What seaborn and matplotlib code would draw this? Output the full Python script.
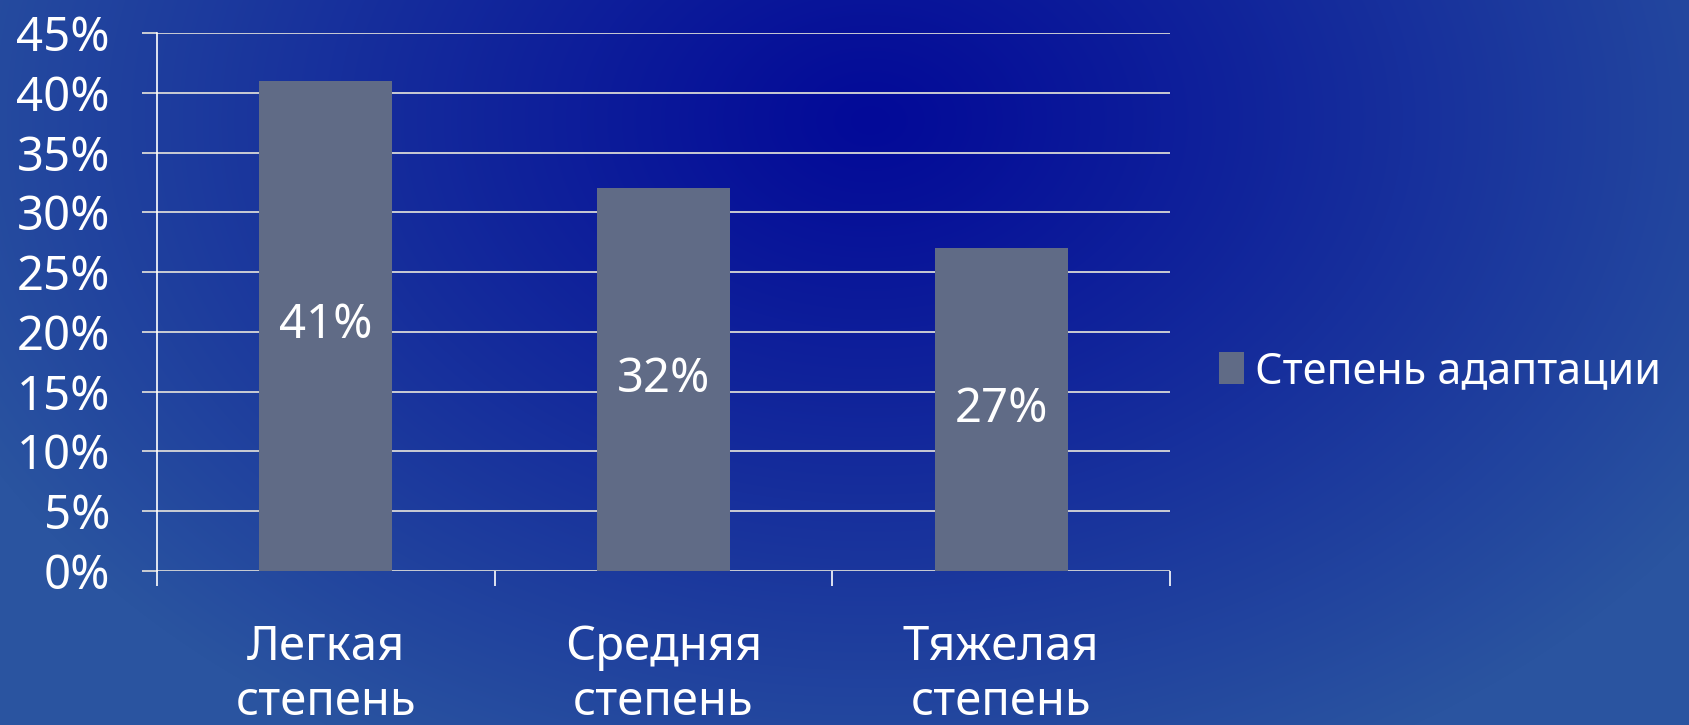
import numpy as np
import pandas as pd
import matplotlib
matplotlib.use("Agg")
import matplotlib.pyplot as plt
import seaborn as sns

categories = ["Легкая\nстепень", "Средняя\nстепень", "Тяжелая\nстепень"]
values = [41, 32, 27]
bar_labels = ["41%", "32%", "27%"]
series_name = "Степень адаптации"
y_ticks = [0, 5, 10, 15, 20, 25, 30, 35, 40, 45]
y_tick_labels = [f"{v}%" for v in y_ticks]

sns.set_theme(style="white")
plt.rcParams["font.family"] = ["Noto Sans", "DejaVu Sans"]

W, H = 1689, 725
fig = plt.figure(figsize=(W / 100, H / 100), dpi=100)

# background radial gradient
bg = fig.add_axes([0, 0, 1, 1], zorder=-10)
yy, xx = np.mgrid[0:H, 0:W]
cx, cy = 870, 120
t = np.sqrt(((xx - cx) / 1000.0) ** 2 + ((yy - cy) / 720.0) ** 2)
t = np.clip(t, 0, 1) ** 1.1
c0 = np.array([3, 10, 152]) / 255.0
c1 = np.array([42, 84, 160]) / 255.0
img = c0[None, None, :] * (1 - t[..., None]) + c1[None, None, :] * t[..., None]
bg.imshow(img, aspect="auto", extent=[0, W, H, 0])
bg.set_axis_off()

left, right, top, bottom = 157, 1170, 33, 571
ax = fig.add_axes([left / W, (H - bottom) / H, (right - left) / W, (bottom - top) / H])
ax.set_facecolor("none")

df = pd.DataFrame({"cat": categories, "val": values, "series": [series_name] * 3})
sns.barplot(data=df, x="cat", y="val", hue="series", palette=["#606b86"],
            width=0.394, ax=ax, saturation=1, linewidth=0, zorder=3)

ax.set_xlim(-0.5, 2.5)
ax.set_ylim(0, 45)
ax.set_yticks(y_ticks)
ax.set_yticklabels(y_tick_labels)
ax.set_xlabel("")
ax.set_ylabel("")

fs = 34
ax.yaxis.grid(True, color="#d8d8d8", linewidth=1.3, zorder=1)
ax.set_axisbelow(True)
ax.tick_params(axis="y", left=True, length=10.8, width=1.3, color="#d8d8d8", pad=23,
               labelsize=fs, labelcolor="white", direction="out")
ax.tick_params(axis="x", which="major", bottom=True, length=0, pad=38, labelsize=fs,
               labelcolor="white")
ax.set_xticks([-0.5, 0.5, 1.5, 2.5], minor=True)
ax.tick_params(axis="x", which="minor", bottom=True, length=10.8, width=1.2,
               color="white", direction="out")

for s in ["top", "right", "bottom"]:
    ax.spines[s].set_visible(False)
ax.spines["left"].set_color("white")
ax.spines["left"].set_linewidth(1.2)

for lab in ax.get_xticklabels():
    lab.set_linespacing(1.22)

ax.bar_label(ax.containers[0], labels=bar_labels, label_type="center",
             color="white", fontsize=fs)

leg = ax.legend(loc="center left", bbox_to_anchor=(1.048, 0.37), frameon=False,
                fontsize=31, handlelength=0.58, handleheight=0.74, handletextpad=0.26,
                borderpad=0, borderaxespad=0)
for txt in leg.get_texts():
    txt.set_color("white")

fig.savefig("out.png", dpi=100)
